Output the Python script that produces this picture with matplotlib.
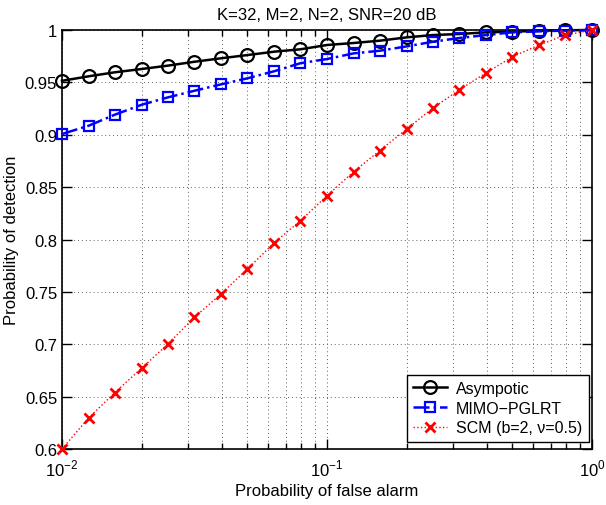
import numpy as np
import matplotlib
matplotlib.use("Agg")
import matplotlib.pyplot as plt
from matplotlib.ticker import LogLocator, FixedLocator

plt.rcParams['font.family'] = ['Liberation Sans', 'DejaVu Sans']
plt.rcParams['mathtext.fontset'] = 'custom'
plt.rcParams['mathtext.rm'] = 'Liberation Sans'

# false alarm probabilities (0.1-decade steps from 1e-2 to 1)
pfa = [0.01, 0.0126, 0.0158, 0.02, 0.0251, 0.0316, 0.0398, 0.0501, 0.0631, 0.0794,
       0.1, 0.126, 0.158, 0.2, 0.251, 0.316, 0.398, 0.501, 0.631, 0.794, 1.0]

asymptotic = [0.9515, 0.9558, 0.9596, 0.9628, 0.9660, 0.9697, 0.9730, 0.9761, 0.9793, 0.9816,
              0.9857, 0.9876, 0.9898, 0.9930, 0.9952, 0.9962, 0.9978, 0.9984, 0.9993, 0.9998, 1.0]
pglrt = [0.9007, 0.9086, 0.9191, 0.9287, 0.9357, 0.9420, 0.9481, 0.9539, 0.9606, 0.9683,
         0.9723, 0.9777, 0.9802, 0.9844, 0.9888, 0.9924, 0.9952, 0.9978, 0.9987, 0.9995, 1.0]
scm = [0.600, 0.6296, 0.6537, 0.6773, 0.7002, 0.7257, 0.748, 0.7718, 0.7967, 0.8180,
       0.8418, 0.8647, 0.8848, 0.9055, 0.9255, 0.943, 0.959, 0.9745, 0.9857, 0.9952, 1.0]

fig = plt.figure(figsize=(6.06, 5.06), dpi=100)
ax = fig.add_axes([0.1023, 0.1107, 0.8746, 0.828])

ax.plot(pfa, asymptotic, '-o', color='black', lw=1.8, ms=9.2, mfc='none', mew=1.6,
        label='Asympotic', clip_on=False, zorder=3)
ax.plot(pfa, pglrt, '-.s', color='#0000ff', lw=1.8, ms=7.5, mfc='none', mew=1.6,
        label='MIMO\u2212PGLRT', clip_on=False, zorder=4)
ax.plot(pfa, scm, ':x', color='#ff0000', lw=1.0, ms=7.5, mew=2.0,
        label='SCM (b=2, \u03bd=0.5)', clip_on=False, zorder=5)

ax.set_xscale('log')
ax.set_xlim(1e-2, 1)
ax.set_ylim(0.6, 1)
ax.set_yticks(np.arange(0.6, 1.001, 0.05))
ax.set_yticklabels(['0.6', '0.65', '0.7', '0.75', '0.8', '0.85', '0.9', '0.95', '1'])
ax.xaxis.set_major_locator(FixedLocator([1e-2, 1e-1, 1]))
ax.xaxis.set_minor_locator(LogLocator(base=10, subs=np.arange(2, 10)))
ax.set_xticklabels([r'$10^{-2}$', r'$10^{-1}$', r'$10^{0}$'])

ax.tick_params(which='both', direction='in', top=True, right=True, labelsize=12, width=1.0)
ax.tick_params(which='major', length=7)
ax.tick_params(which='minor', length=4)
ax.tick_params(axis='x', pad=6)
ax.grid(True, which='major', linestyle=(0, (1, 3)), color='#606060', lw=0.7)
ax.grid(True, which='minor', axis='x', linestyle=(0, (1, 3)), color='#606060', lw=0.7)
for s in ax.spines.values():
    s.set_linewidth(1.2)

ax.set_title('K=32, M=2, N=2, SNR=20 dB', fontsize=12, pad=8)
ax.set_xlabel('Probability of false alarm', fontsize=12)
ax.set_ylabel('Probability of detection', fontsize=12)

leg = ax.legend(loc='lower right', bbox_to_anchor=(0.994, 0.017), fontsize=11.5,
                fancybox=False, edgecolor='black', framealpha=1, borderpad=0.4,
                labelspacing=0.3, handlelength=2.1, handletextpad=0.6, borderaxespad=0)
leg.get_frame().set_linewidth(1.0)

fig.savefig('out.png', dpi=100)
